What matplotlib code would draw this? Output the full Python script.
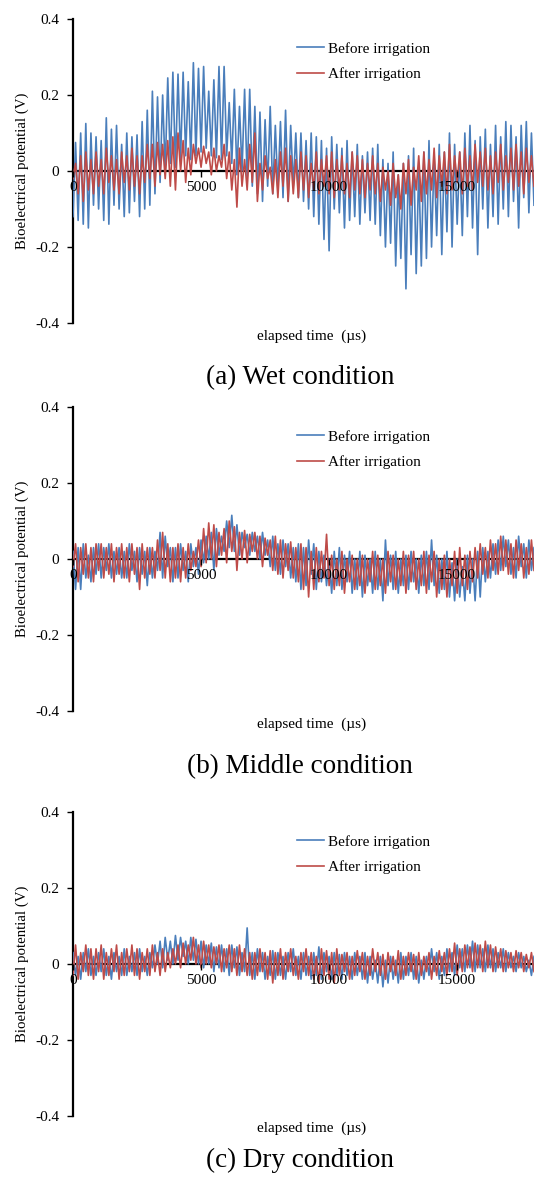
import numpy as np
import matplotlib
matplotlib.use('Agg')
import matplotlib.pyplot as plt

plt.rcParams['font.family'] = ['Liberation Serif', 'DejaVu Serif']
plt.rcParams['axes.unicode_minus'] = False

# sampling grid of the recorded waveforms (us)
time_us = list(range(0, 18001, 100))

# (a) wet condition
wet_before = [
    -0.12, 0.075, -0.13, 0.10, -0.14, 0.125, -0.15, 0.10, -0.09, 0.09,
    -0.10, 0.08, -0.13, 0.14, -0.14, 0.11, -0.09, 0.12, -0.10, 0.07,
    -0.12, 0.10, -0.11, 0.09, -0.08, 0.095, -0.12, 0.13, -0.10, 0.16,
    -0.09, 0.21, -0.06, 0.195, -0.03, 0.20, 0.0, 0.245, 0.02, 0.26,
    0.01, 0.255, 0.03, 0.26, 0.04, 0.235, 0.03, 0.285, 0.04, 0.27,
    0.05, 0.275, 0.06, 0.21, 0.04, 0.24, 0.035, 0.275, 0.03, 0.275,
    0.04, 0.18, 0.02, 0.215, -0.01, 0.17, 0.0, 0.215, -0.02, 0.215,
    -0.04, 0.17, -0.06, 0.155, -0.08, 0.135, -0.04, 0.17, -0.06, 0.12,
    -0.05, 0.13, -0.07, 0.16, -0.08, 0.12, -0.04, 0.10, -0.07, 0.10,
    -0.08, 0.08, -0.10, 0.10, -0.12, 0.09, -0.14, 0.08, -0.18, 0.06,
    -0.21, 0.09, -0.10, 0.07, -0.11, 0.06, -0.15, 0.08, -0.13, 0.05,
    -0.12, 0.07, -0.14, 0.04, -0.11, 0.05, -0.13, 0.06, -0.14, 0.07,
    -0.17, 0.03, -0.20, 0.02, -0.19, 0.05, -0.25, -0.01, -0.23, 0.02,
    -0.31, 0.04, -0.22, 0.06, -0.27, 0.01, -0.25, 0.05, -0.23, 0.08,
    -0.20, 0.04, -0.17, 0.07, -0.22, 0.05, -0.16, 0.10, -0.20, 0.07,
    -0.14, 0.05, -0.17, 0.10, -0.12, 0.12, -0.15, 0.08, -0.22, 0.09,
    -0.10, 0.11, -0.15, 0.07, -0.12, 0.12, -0.14, 0.09, -0.10, 0.13,
    -0.12, 0.12, -0.08, 0.09, -0.15, 0.12, -0.07, 0.13, -0.11, 0.10,
    -0.09]
wet_after = [
    -0.02, 0.02, -0.06, 0.04, -0.08, 0.05, -0.05, 0.03, -0.06, 0.05,
    -0.04, 0.03, -0.06, 0.06, -0.03, 0.04, -0.05, 0.03, -0.06, 0.05,
    -0.03, 0.04, -0.05, 0.06, -0.04, 0.04, -0.06, 0.04, -0.03, 0.07,
    -0.02, 0.07, -0.04, 0.075, -0.01, 0.07, -0.02, 0.08, -0.04, 0.09,
    -0.05, 0.10, 0.0, 0.08, -0.03, 0.06, -0.01, 0.07, 0.02, 0.06,
    0.01, 0.065, 0.02, 0.05, -0.01, 0.06, 0.0, 0.04, 0.01, 0.07,
    -0.02, 0.05, -0.05, 0.03, -0.095, 0.06, -0.04, 0.03, -0.05, 0.07,
    -0.03, 0.10, -0.08, 0.02, -0.05, 0.04, -0.02, 0.01, -0.06, 0.03,
    -0.07, 0.05, -0.04, 0.06, -0.08, 0.04, -0.06, 0.03, -0.07, 0.05,
    -0.05, 0.04, -0.07, 0.02, -0.05, 0.05, -0.06, 0.03, -0.04, 0.04,
    -0.06, 0.05, -0.07, 0.03, -0.05, 0.04, -0.06, 0.02, -0.07, 0.05,
    -0.05, 0.04, -0.06, 0.03, -0.07, 0.02, -0.05, 0.04, -0.06, 0.02,
    -0.08, 0.01, -0.05, 0.0, -0.09, 0.02, -0.07, -0.01, -0.10, 0.02,
    -0.06, 0.03, -0.09, 0.01, -0.05, 0.04, -0.08, 0.05, -0.06, 0.03,
    -0.05, 0.06, -0.07, 0.04, -0.04, 0.05, -0.06, 0.07, -0.05, 0.04,
    -0.03, 0.05, -0.06, 0.06, -0.04, 0.04, -0.05, 0.07, -0.03, 0.05,
    -0.04, 0.06, -0.05, 0.04, -0.06, 0.05, -0.03, 0.07, -0.05, 0.04,
    -0.03, 0.06, -0.05, 0.07, -0.04, 0.05, -0.06, 0.06, -0.03, 0.04,
    -0.04]

# (b) middle condition
middle_before = [
    0.02, -0.08, 0.03, -0.08, 0.04, -0.05, 0.01, -0.06, 0.03, -0.04,
    0.04, -0.05, 0.03, -0.03, 0.04, -0.05, 0.02, -0.04, 0.03, -0.05,
    0.02, -0.05, 0.04, -0.03, 0.02, -0.06, 0.03, -0.04, 0.02, -0.07,
    0.03, -0.05, 0.02, -0.03, 0.07, -0.05, 0.06, -0.02, 0.03, -0.06,
    0.03, -0.05, 0.04, -0.03, 0.02, -0.06, 0.04, -0.02, 0.03, -0.04,
    0.05, -0.01, 0.06, 0.0, 0.07, -0.03, 0.08, 0.01, 0.06, 0.02,
    0.10, 0.03, 0.115, 0.02, 0.09, 0.01, 0.07, 0.03, 0.065, 0.01,
    0.07, 0.02, 0.06, 0.0, 0.07, 0.01, 0.05, -0.02, 0.06, -0.03,
    0.04, -0.04, 0.05, -0.02, 0.04, -0.05, 0.03, -0.06, 0.04, -0.08,
    0.03, -0.07, 0.05, -0.04, 0.04, -0.08, 0.02, -0.06, 0.01, -0.07,
    0.0, -0.09, 0.02, -0.07, 0.03, -0.08, 0.01, -0.06, 0.02, -0.09,
    0.0, -0.08, 0.02, -0.10, 0.01, -0.07, 0.0, -0.09, 0.02, -0.08,
    0.0, -0.11, 0.05, -0.07, 0.01, -0.08, 0.02, -0.09, 0.0, -0.07,
    0.01, -0.08, 0.02, -0.06, 0.0, -0.09, 0.01, -0.07, 0.02, -0.08,
    0.05, -0.07, 0.01, -0.09, 0.0, -0.08, 0.02, -0.10, -0.01, -0.11,
    0.0, -0.10, -0.02, -0.11, 0.01, -0.09, 0.0, -0.11, 0.02, -0.10,
    0.03, -0.06, 0.02, -0.05, 0.04, -0.04, 0.05, -0.03, 0.06, -0.02,
    0.05, -0.04, 0.03, -0.05, 0.06, -0.02, 0.04, -0.05, 0.05, -0.03,
    0.03]
middle_after = [
    -0.02, 0.04, -0.06, 0.03, -0.04, 0.04, -0.05, 0.03, -0.06, 0.04,
    -0.03, 0.04, -0.05, 0.03, -0.04, 0.04, -0.06, 0.03, -0.04, 0.04,
    -0.05, 0.03, -0.06, 0.04, -0.04, 0.03, -0.08, 0.04, -0.05, 0.03,
    -0.04, 0.03, -0.05, 0.05, -0.03, 0.07, -0.05, 0.04, -0.06, 0.03,
    -0.05, 0.04, -0.06, 0.03, -0.05, 0.04, -0.03, 0.02, -0.02, 0.05,
    -0.02, 0.08, -0.01, 0.095, 0.0, 0.09, -0.02, 0.07, 0.01, 0.08,
    -0.01, 0.10, 0.02, 0.085, -0.03, 0.07, 0.0, 0.075, -0.01, 0.065,
    0.02, 0.07, 0.0, 0.06, -0.02, 0.055, 0.01, 0.05, -0.03, 0.06,
    -0.04, 0.05, -0.05, 0.04, -0.03, 0.045, -0.05, 0.03, -0.06, 0.04,
    -0.08, 0.03, -0.10, 0.02, -0.08, 0.03, -0.06, 0.02, -0.05, 0.065,
    -0.07, 0.01, -0.08, 0.0, -0.07, 0.02, -0.09, 0.0, -0.06, 0.01,
    -0.08, 0.0, -0.07, 0.01, -0.09, 0.0, -0.06, 0.02, -0.08, 0.01,
    -0.07, 0.0, -0.09, 0.02, -0.06, 0.01, -0.08, 0.0, -0.07, 0.02,
    -0.09, 0.01, -0.06, 0.02, -0.08, 0.0, -0.07, 0.02, -0.09, 0.01,
    -0.06, 0.02, -0.10, 0.0, -0.08, 0.01, -0.10, 0.0, -0.07, 0.02,
    -0.09, 0.03, -0.07, 0.01, -0.08, 0.02, -0.06, 0.03, -0.05, 0.04,
    -0.04, 0.03, -0.05, 0.05, -0.03, 0.04, -0.04, 0.06, -0.03, 0.05,
    -0.04, 0.04, -0.05, 0.05, -0.03, 0.04, -0.05, 0.03, -0.04, 0.05,
    -0.03]

# (c) dry condition
dry_before = [
    0.03, -0.03, 0.02, -0.04, 0.03, -0.02, 0.04, -0.03, 0.02, -0.03,
    0.03, -0.02, 0.04, -0.03, 0.02, -0.04, 0.03, -0.02, 0.02, -0.03,
    0.04, -0.03, 0.02, -0.02, 0.03, -0.03, 0.04, -0.02, 0.02, -0.03,
    0.03, -0.01, 0.05, 0.0, 0.06, -0.01, 0.07, 0.01, 0.06, 0.0,
    0.075, 0.01, 0.07, 0.02, 0.06, 0.0, 0.07, 0.01, 0.065, 0.0,
    0.06, -0.01, 0.05, 0.0, 0.055, -0.02, 0.045, -0.01, 0.05, -0.02,
    0.04, -0.03, 0.05, -0.01, 0.045, -0.03, 0.03, -0.02, 0.095, -0.03,
    0.03, -0.04, 0.04, -0.02, 0.03, -0.04, 0.02, -0.03, 0.035, -0.04,
    0.03, -0.03, 0.02, -0.04, 0.03, -0.02, 0.04, -0.03, 0.02, -0.04,
    0.03, -0.03, 0.02, -0.04, 0.03, -0.03, 0.045, -0.04, 0.03, -0.02,
    0.02, -0.04, 0.03, -0.03, 0.025, -0.04, 0.03, -0.03, 0.02, -0.04,
    0.03, -0.03, 0.02, -0.04, 0.03, -0.05, 0.02, -0.04, 0.01, -0.05,
    0.02, -0.06, 0.01, -0.05, 0.02, -0.04, 0.01, -0.05, 0.03, -0.04,
    0.02, -0.03, 0.03, -0.04, 0.02, -0.05, 0.01, -0.04, 0.02, -0.03,
    0.04, -0.02, 0.03, -0.04, 0.02, -0.03, 0.04, -0.02, 0.03, -0.03,
    0.05, -0.01, 0.04, -0.02, 0.05, -0.01, 0.06, -0.02, 0.05, -0.01,
    0.04, -0.02, 0.05, -0.01, 0.04, -0.02, 0.03, -0.01, 0.04, -0.02,
    0.03, -0.01, 0.02, -0.02, 0.03, -0.01, 0.02, -0.02, 0.01, -0.03,
    0.02]
dry_after = [
    -0.03, 0.05, -0.04, 0.03, -0.02, 0.05, -0.03, 0.04, -0.04, 0.04,
    -0.02, 0.05, -0.04, 0.03, -0.03, 0.04, -0.02, 0.05, -0.04, 0.03,
    -0.03, 0.04, -0.02, 0.05, -0.03, 0.04, -0.04, 0.03, -0.02, 0.04,
    -0.03, 0.05, -0.02, 0.03, -0.03, 0.04, -0.02, 0.03, -0.01, 0.04,
    0.0, 0.05, -0.01, 0.055, 0.0, 0.05, 0.01, 0.07, 0.0, 0.05,
    -0.01, 0.06, 0.0, 0.05, -0.01, 0.045, 0.0, 0.05, -0.02, 0.04,
    -0.01, 0.05, -0.02, 0.04, -0.03, 0.05, -0.02, 0.04, -0.03, 0.03,
    -0.04, 0.03, -0.03, 0.04, -0.02, 0.03, -0.04, 0.035, -0.05, 0.03,
    -0.03, 0.04, -0.04, 0.03, -0.02, 0.04, -0.03, 0.02, -0.04, 0.03,
    -0.02, 0.04, -0.03, 0.03, -0.04, 0.02, -0.05, 0.04, -0.03, 0.035,
    -0.04, 0.03, -0.05, 0.04, -0.03, 0.025, -0.02, 0.03, -0.04, 0.02,
    -0.03, 0.035, -0.02, 0.03, -0.04, 0.02, -0.03, 0.04, -0.02, 0.03,
    -0.03, 0.025, -0.04, 0.03, -0.02, 0.02, -0.03, 0.035, -0.04, 0.02,
    -0.03, 0.03, -0.02, 0.025, -0.04, 0.03, -0.03, 0.02, -0.02, 0.03,
    -0.04, 0.02, -0.03, 0.035, -0.02, 0.03, -0.03, 0.04, -0.02, 0.055,
    -0.03, 0.04, -0.02, 0.05, -0.01, 0.045, -0.02, 0.055, -0.01, 0.05,
    -0.02, 0.06, -0.01, 0.05, -0.02, 0.045, -0.01, 0.04, -0.02, 0.035,
    -0.01, 0.03, -0.02, 0.035, -0.01, 0.03, -0.02, 0.025, -0.01, 0.03,
    -0.02]

series_labels = ['Before irrigation', 'After irrigation']
captions = ['(a) Wet condition', '(b) Middle condition', '(c) Dry condition']
y_ticks = [-0.4, -0.2, 0, 0.2, 0.4]
y_tick_labels = ['-0.4', '-0.2', '0', '0.2', '0.4']
x_ticks = [0, 5000, 10000, 15000]

BLUE = '#4a7ebb'
RED = '#be4b48'
W, H = 534, 1179


def draw_panel(fig, top_px, before, after, caption, xlabel_px, caption_px, legend_px):
    bottom = 1 - (top_px + 304) / H
    ax = fig.add_axes([73 / W, bottom, 461 / W, 304 / H])
    ax.plot(time_us, before, color=BLUE, lw=1.2, label=series_labels[0], zorder=3)
    ax.plot(time_us, after, color=RED, lw=1.2, label=series_labels[1], zorder=3)
    ax.set_xlim(0, 18000)
    ax.set_ylim(-0.4, 0.4)
    ax.spines['top'].set_visible(False)
    ax.spines['right'].set_visible(False)
    ax.spines['bottom'].set_position(('data', 0))
    ax.spines['left'].set_linewidth(1.6)
    ax.spines['bottom'].set_linewidth(1.6)
    # tick labels sit on top of the traces, zero line under them
    ax.xaxis.set_zorder(4)
    ax.set_yticks(y_ticks)
    ax.set_yticklabels(y_tick_labels)
    ax.set_xticks(x_ticks)
    ax.set_xticklabels([str(v) for v in x_ticks])
    ax.tick_params(axis='y', direction='out', length=4, width=1, pad=6, labelsize=11)
    ax.tick_params(axis='x', direction='out', length=4, width=1, pad=3, labelsize=11)
    ax.set_ylabel('Bioelectrical potential (V)', fontsize=10.7, labelpad=4)
    ax.patch.set_visible(False)
    fig.text(312 / W, 1 - xlabel_px / H, 'elapsed time  (\u00b5s)', fontsize=11,
             ha='center', va='center')
    fig.text(300 / W, 1 - caption_px / H, caption, fontsize=19.5,
             ha='center', va='center')
    ax.legend(loc='upper left', bbox_to_anchor=(297 / W, 1 - legend_px / H),
              bbox_transform=fig.transFigure, frameon=False, fontsize=11,
              handlelength=1.75, handletextpad=0.25, labelspacing=0.75,
              borderpad=0, borderaxespad=0)
    return ax


fig = plt.figure(figsize=(W / 100, H / 100), dpi=100)
draw_panel(fig, 19, wet_before, wet_after, captions[0], 336, 378, 42)
draw_panel(fig, 407, middle_before, middle_after, captions[1], 724, 767, 430)
draw_panel(fig, 812, dry_before, dry_after, captions[2], 1128, 1160, 835)
fig.savefig('out.png', dpi=100)
